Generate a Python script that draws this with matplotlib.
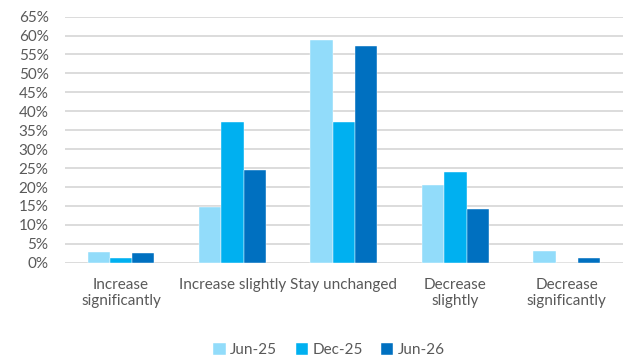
import numpy as np
import matplotlib.pyplot as plt
from matplotlib.ticker import PercentFormatter

# valeurs (%)
categories = ['Increase\nsignificantly', 'Increase slightly', 'Stay unchanged',
              'Decrease\nslightly', 'Decrease\nsignificantly']
series = ['Jun-25', 'Dec-25', 'Jun-26']
jun25 = [2.9, 14.8, 58.7, 20.5, 3.0]
dec25 = [1.3, 37.2, 37.2, 24.0, 0.0]
jun26 = [2.6, 24.6, 57.1, 14.3, 1.2]
colors = ['#92DCFA', '#00B0F0', '#0070C0']

plt.rcParams['font.family'] = ['Lato', 'DejaVu Sans']

fig = plt.figure(figsize=(6.27, 3.6), dpi=100)
ax = fig.add_axes([0.104, 0.270, 0.889, 0.684])

x = np.arange(len(categories))
w = 0.2
for i, (vals, name) in enumerate(zip([jun25, dec25, jun26], series)):
    ax.bar(x + (i - 1) * w, vals, width=w, color=colors[i], label=name,
           edgecolor='white', linewidth=0.3, zorder=3)

ax.set_ylim(0, 65)
ax.set_yticks(np.arange(0, 66, 5))
ax.yaxis.set_major_formatter(PercentFormatter(decimals=0))
ax.set_xlim(-0.5, len(categories) - 0.5)
ax.set_xticks(x)
ax.set_xticklabels(categories)
ax.grid(axis='y', color='#D9D9D9', linewidth=1.3, zorder=0)
for s in ax.spines.values():
    s.set_visible(False)
ax.tick_params(axis='both', length=0, colors='#595959', labelsize=11)
ax.tick_params(axis='y', pad=12)
ax.tick_params(axis='x', pad=11)

fig.legend(loc='lower center', bbox_to_anchor=(0.525, -0.03), ncol=3, frameon=False,
           fontsize=11, handlelength=0.8, handleheight=0.8, handletextpad=0.3,
           columnspacing=1.2, labelcolor='#595959')

fig.savefig('out.png', dpi=100)
